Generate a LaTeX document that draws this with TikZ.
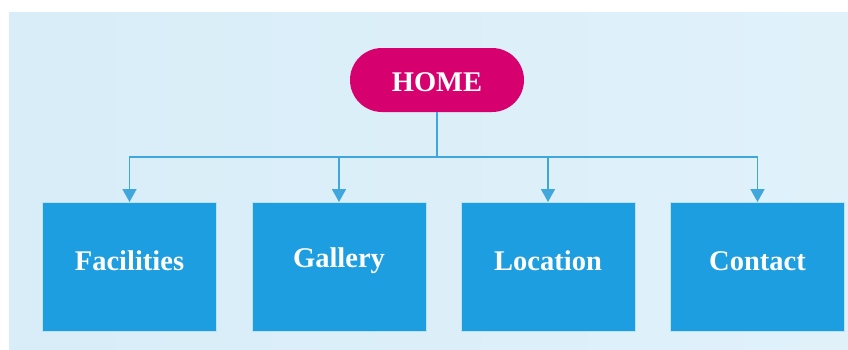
\documentclass[tikz,border=0pt]{standalone}
\usepackage{fontspec}
\setmainfont{Liberation Serif}
\usetikzlibrary{arrows.meta}
\definecolor{bgL}{HTML}{D8EDF8}
\definecolor{bgR}{HTML}{E0F1FA}
\definecolor{boxblue}{HTML}{1C9EE0}
\definecolor{linkblue}{HTML}{3FA7DC}
\definecolor{homepink}{HTML}{D6006E}
\tikzset{
  px/.style={x=1pt,y=-1pt},
  labeltext/.style={text=white, font=\fontsize{28.5}{32}\selectfont\bfseries, inner sep=0pt},
  pagebox/.style={draw=white!70!boxblue, line width=1pt, fill=boxblue, minimum width=174pt, minimum height=129pt, inner sep=0pt},
  homebox/.style={fill=homepink, rounded corners=32pt, minimum width=174pt, minimum height=64pt, inner sep=0pt},
  link/.style={draw=linkblue, line width=1.6pt},
  linkarrow/.style={link, -{Triangle[width=14pt,length=13pt]}}
}
\begin{document}
\begin{tikzpicture}[px]
\useasboundingbox (0,0) rectangle (848,349);
\fill[white] (0,0) rectangle (848,349);
\shade[left color=bgL, right color=bgR] (9,12) rectangle (848,349);
\node[homebox, label={[labeltext,yshift=-2pt]center:HOME}] (home) at (437,80) {};
\node[pagebox, label={[labeltext,yshift=6pt]center:Facilities}] (fac) at (129.5,267) {};
\node[pagebox, label={[labeltext,yshift=6pt]center:Gallery}] (gal) at (339,267) {};
\node[pagebox, label={[labeltext,yshift=6pt]center:Location}] (loc) at (548,267) {};
\node[pagebox, label={[labeltext,yshift=6pt]center:Contact}] (con) at (757.5,267) {};
\coordinate (bus) at (437,157);
\draw[link] (home.south) -- (bus);
\foreach \n in {fac,gal,loc,con}
  \draw[linkarrow] (bus) -| (\n.north);
\end{tikzpicture}
\end{document}
